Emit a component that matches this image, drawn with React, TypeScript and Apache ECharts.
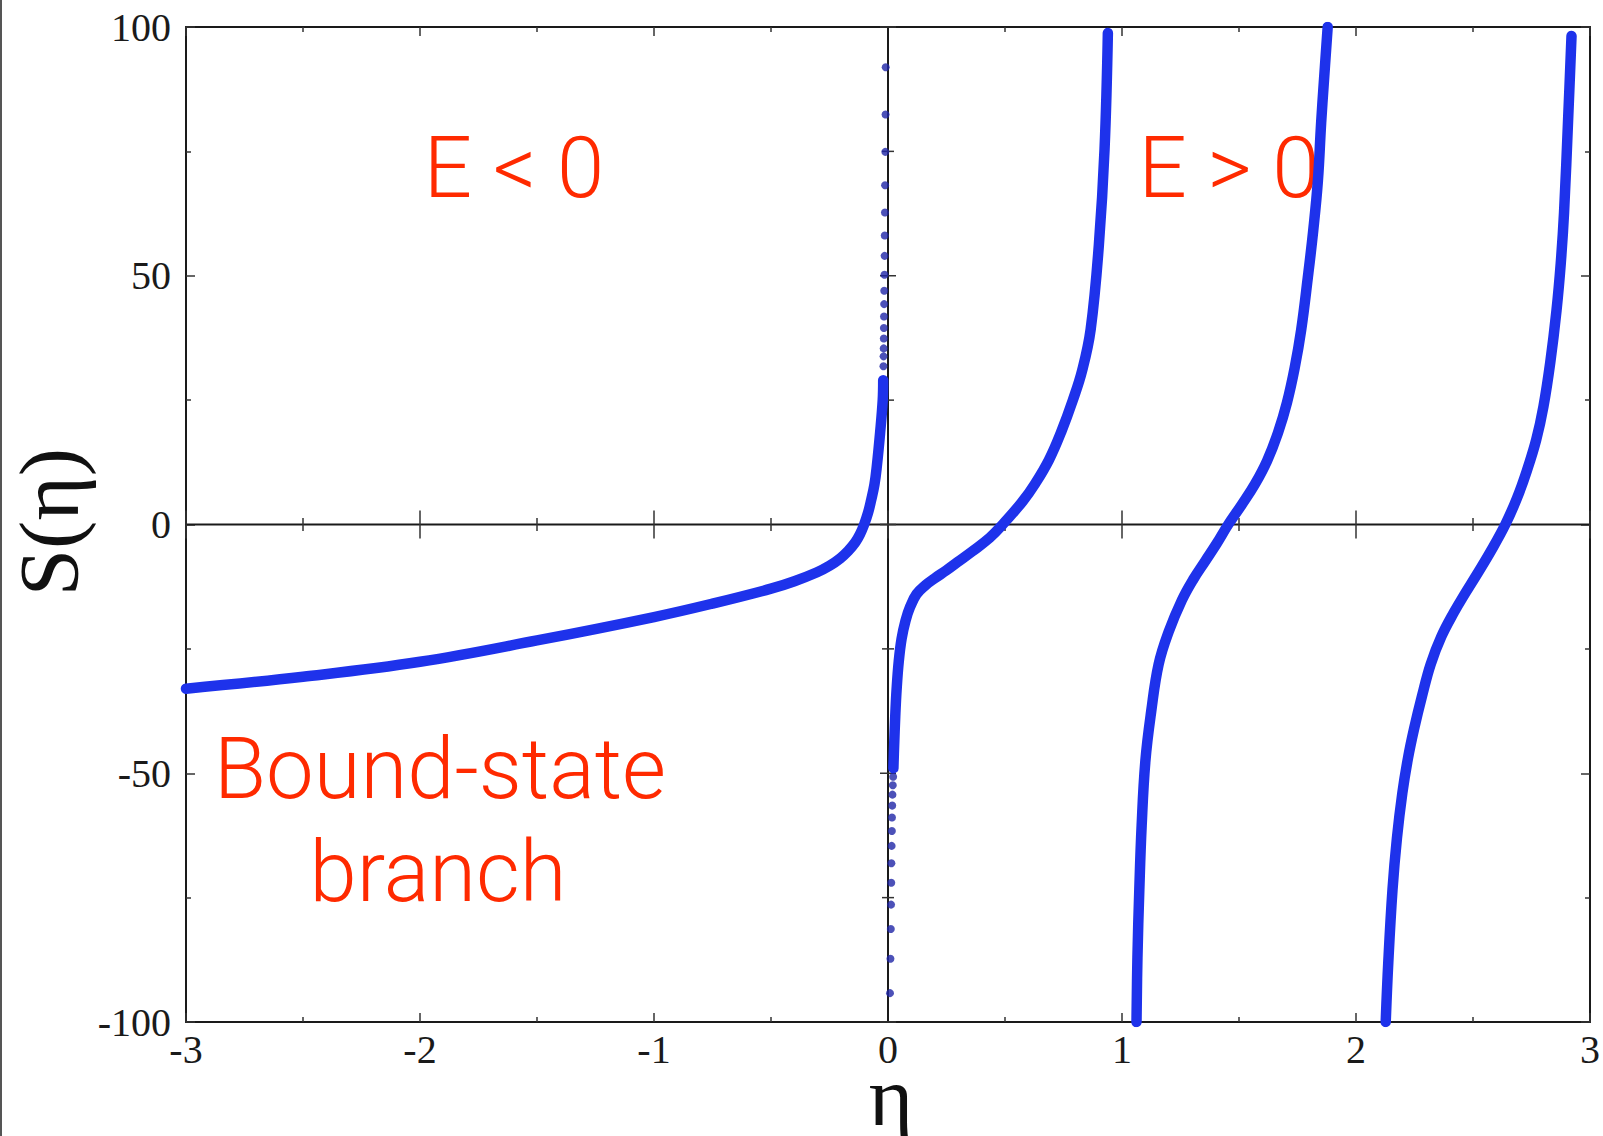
import React, { useEffect, useRef } from "react";
import * as echarts from "echarts";

// Axis ranges and tick values
const X_MIN = -3;
const X_MAX = 3;
const Y_MIN = -100;
const Y_MAX = 100;
const X_MAJOR = [-3, -2, -1, 0, 1, 2, 3];
const X_MINOR = [-2.5, -1.5, -0.5, 0.5, 1.5, 2.5];
const Y_MAJOR = [-100, -50, 0, 50, 100];
const Y_MINOR = [-75, -25, 25, 75];

// Bound-state branch (E < 0): dense part
const BRANCH1_ETA = [-3, -2.5, -2, -1.5, -1, -0.75, -0.5, -0.4, -0.303, -0.25, -0.204, -0.17, -0.14, -0.12, -0.102, -0.085, -0.072, -0.058, -0.048, -0.034, -0.0225, -0.0205];
const BRANCH1_S = [-33.0, -30.6, -27.6, -23.3, -18.6, -15.9, -12.9, -11.4, -9.6, -8.3, -6.8, -5.3, -3.6, -2.0, 0, 2.4, 4.9, 8.0, 11.6, 18.3, 25.0, 29.0];
// Bound-state branch: sparse samples near the pole
const BRANCH1_DOT_ETA = [-0.0098, -0.0105, -0.0115, -0.0125, -0.013, -0.014, -0.0145, -0.015, -0.016, -0.0165, -0.017, -0.0175, -0.018, -0.0185, -0.019, -0.0195];
const BRANCH1_DOT_S = [91.9, 82.4, 74.9, 68.2, 62.7, 58.1, 54.0, 50.2, 47.0, 44.3, 41.8, 39.5, 37.4, 35.4, 33.8, 31.8];

// First E > 0 branch: sparse samples near the pole, then dense part
const BRANCH2_DOT_ETA = [0.0085, 0.0105, 0.012, 0.013, 0.014, 0.0145, 0.0155, 0.0165, 0.017, 0.018, 0.019, 0.0205, 0.022];
const BRANCH2_DOT_S = [-94.2, -87.3, -81.3, -76.4, -72.0, -68.1, -64.6, -61.6, -58.9, -56.5, -54.3, -52.4, -50.7];
const BRANCH2_ETA = [0.023, 0.026, 0.031, 0.037, 0.046, 0.058, 0.075, 0.095, 0.122, 0.16, 0.2, 0.25, 0.296, 0.36, 0.434, 0.49, 0.576, 0.63, 0.688, 0.74, 0.79, 0.83, 0.866, 0.901, 0.9255, 0.9396];
const BRANCH2_S = [-49.0, -44.7, -38.5, -33.0, -27.5, -23.0, -19.3, -16.5, -14.0, -12.2, -10.8, -9.2, -7.6, -5.4, -2.7, 0, 4.7, 8.3, 13.0, 18.6, 25.0, 31.0, 39.2, 56.1, 75.5, 98.8];

// Second E > 0 branch
const BRANCH3_ETA = [1.062, 1.066, 1.074, 1.084, 1.1, 1.125, 1.1565, 1.199, 1.256, 1.305, 1.355, 1.405, 1.454, 1.512, 1.568, 1.62, 1.667, 1.705, 1.738, 1.766, 1.794, 1.817, 1.837, 1.851, 1.862, 1.879];
const BRANCH3_S = [-100, -87.0, -73.4, -60.5, -47.5, -37.5, -28.1, -21.6, -15.2, -11.0, -7.4, -3.8, 0, 4.0, 8.1, 12.8, 18.5, 24.5, 31.5, 39.2, 49.6, 59.0, 69.0, 80.7, 88.5, 100];

// Third E > 0 branch
const BRANCH4_ETA = [2.127, 2.138, 2.156, 2.175, 2.198, 2.222, 2.248, 2.282, 2.319, 2.365, 2.418, 2.467, 2.517, 2.578, 2.638, 2.688, 2.73, 2.77, 2.801, 2.83, 2.857, 2.875, 2.889, 2.907, 2.921];
const BRANCH4_S = [-100, -88.0, -73.4, -63.0, -54.0, -47.0, -41.1, -34.5, -28.1, -22.5, -17.7, -13.8, -10.0, -5.2, 0, 5.3, 10.8, 17.0, 23.7, 32.5, 43.1, 52.5, 62.6, 82.0, 98.2];

const CURVE_COLOR = "#1e32eb";
const DOT_COLOR = "#1f25a6";
const AXIS_COLOR = "#1a1a1a";
const TICK_COLOR = "#333333";
const NOTE_COLOR = "#ff2a00";

const pairs = (xs: number[], ys: number[]) => xs.map((x, i) => [x, ys[i]]);

function boxXAxis(position: "bottom" | "top", labels: boolean) {
  return {
    type: "value",
    position,
    min: X_MIN,
    max: X_MAX,
    interval: 1,
    axisLine: { show: true, onZero: false, lineStyle: { color: AXIS_COLOR, width: 2 } },
    axisTick: { show: true, inside: true, length: 9, lineStyle: { color: TICK_COLOR, width: 1.5 } },
    minorTick: { show: true, splitNumber: 2, length: 5, lineStyle: { color: TICK_COLOR, width: 1.5 } },
    splitLine: { show: false },
    minorSplitLine: { show: false },
    axisLabel: {
      show: labels,
      fontFamily: "Liberation Serif",
      fontSize: 40,
      color: AXIS_COLOR,
      margin: 7,
      formatter: (v: number) => String(v),
    },
  };
}

function boxYAxis(position: "left" | "right", labels: boolean) {
  return {
    type: "value",
    position,
    min: Y_MIN,
    max: Y_MAX,
    interval: 50,
    axisLine: { show: true, onZero: false, lineStyle: { color: AXIS_COLOR, width: 2 } },
    axisTick: { show: true, inside: true, length: 9, lineStyle: { color: TICK_COLOR, width: 1.5 } },
    minorTick: { show: true, splitNumber: 2, length: 5, lineStyle: { color: TICK_COLOR, width: 1.5 } },
    splitLine: { show: false },
    minorSplitLine: { show: false },
    axisLabel: {
      show: labels,
      fontFamily: "Liberation Serif",
      fontSize: 40,
      color: AXIS_COLOR,
      margin: 15,
      formatter: (v: number) => String(v),
    },
  };
}

// Zero axes through the origin, with their own crossing ticks
function renderZeroAxes(_params: any, api: any) {
  const origin = api.coord([0, 0]);
  const left = api.coord([X_MIN, 0]);
  const right = api.coord([X_MAX, 0]);
  const top = api.coord([0, Y_MAX]);
  const bottom = api.coord([0, Y_MIN]);
  const axisStyle = { stroke: AXIS_COLOR, lineWidth: 2 };
  const tickStyle = { stroke: TICK_COLOR, lineWidth: 1.5 };
  const children: any[] = [
    { type: "line", shape: { x1: left[0], y1: origin[1], x2: right[0], y2: origin[1] }, style: axisStyle },
    { type: "line", shape: { x1: origin[0], y1: top[1], x2: origin[0], y2: bottom[1] }, style: axisStyle },
  ];
  const hTick = (v: number, half: number) => {
    const p = api.coord([v, 0]);
    children.push({ type: "line", shape: { x1: p[0], y1: p[1] - half, x2: p[0], y2: p[1] + half }, style: tickStyle });
  };
  const vTick = (v: number, half: number) => {
    const p = api.coord([0, v]);
    children.push({ type: "line", shape: { x1: p[0] - half, y1: p[1], x2: p[0] + half, y2: p[1] }, style: tickStyle });
  };
  X_MAJOR.forEach((v) => hTick(v, 14));
  X_MINOR.forEach((v) => hTick(v, 6.5));
  Y_MAJOR.forEach((v) => vTick(v, 8));
  Y_MINOR.forEach((v) => vTick(v, 6));
  return { type: "group", children };
}

const curveSeries = (xs: number[], ys: number[]) => ({
  type: "line",
  data: pairs(xs, ys),
  showSymbol: false,
  smooth: 0.4,
  z: 3,
  silent: true,
  lineStyle: { color: CURVE_COLOR, width: 10.5, cap: "round", join: "round" },
});

const dotSeries = (xs: number[], ys: number[]) => ({
  type: "scatter",
  data: pairs(xs, ys),
  symbol: "circle",
  symbolSize: 8,
  z: 4,
  silent: true,
  itemStyle: { color: DOT_COLOR },
});

export default function App() {
  const ref = useRef<HTMLDivElement>(null);

  useEffect(() => {
    if (!ref.current) return;
    const chart = echarts.init(ref.current, undefined, { renderer: "svg" });
    const noteStyle = {
      fontFamily: "Roboto",
      fontWeight: 300,
      fontSize: 85,
      fill: NOTE_COLOR,
      align: "center",
      verticalAlign: "middle",
    };
    chart.setOption({
      animation: false,
      backgroundColor: "#ffffff",
      grid: { left: 186, right: 6, top: 27, bottom: 114, containLabel: false },
      xAxis: [boxXAxis("bottom", true), boxXAxis("top", false)],
      yAxis: [boxYAxis("left", true), boxYAxis("right", false)],
      series: [
        {
          type: "custom",
          data: [[0, 0]],
          renderItem: renderZeroAxes,
          silent: true,
          z: 1,
        },
        curveSeries(BRANCH1_ETA, BRANCH1_S),
        dotSeries(BRANCH1_DOT_ETA, BRANCH1_DOT_S),
        dotSeries(BRANCH2_DOT_ETA, BRANCH2_DOT_S),
        curveSeries(BRANCH2_ETA, BRANCH2_S),
        curveSeries(BRANCH3_ETA, BRANCH3_S),
        curveSeries(BRANCH4_ETA, BRANCH4_S),
      ],
      graphic: [
        { type: "rect", shape: { x: 0, y: 0, width: 2, height: 1136 }, style: { fill: "#555555" }, silent: true },
        {
          type: "text",
          x: 49,
          y: 522,
          rotation: Math.PI / 2,
          style: {
            text: "S(η)",
            fontFamily: "Liberation Serif",
            fontSize: 85,
            fill: "#111111",
            align: "center",
            verticalAlign: "middle",
          },
        },
        {
          type: "text",
          x: 891,
          y: 1096,
          style: {
            text: "η",
            fontFamily: "Liberation Serif",
            fontSize: 85,
            fill: "#111111",
            align: "center",
            verticalAlign: "middle",
          },
        },
        { type: "text", x: 514, y: 168, style: { ...noteStyle, text: "E < 0" } },
        { type: "text", x: 1229, y: 168, style: { ...noteStyle, text: "E > 0" } },
        { type: "text", x: 440, y: 769, style: { ...noteStyle, text: "Bound-state" } },
        { type: "text", x: 438, y: 872, style: { ...noteStyle, text: "branch" } },
      ],
    });
    return () => chart.dispose();
  }, []);

  return (
    <div
      ref={ref}
      style={{ position: "absolute", left: 0, top: 0, width: 1603, height: 1136 }}
    />
  );
}
